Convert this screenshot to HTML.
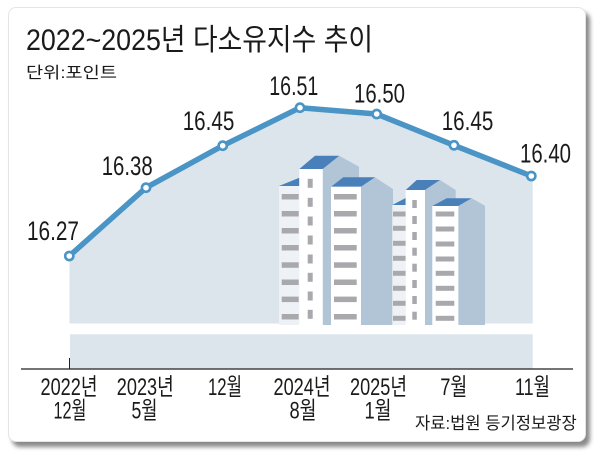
<!DOCTYPE html>
<html><head><meta charset="utf-8">
<style>
html,body{margin:0;padding:0;background:#fff;}
body{width:603px;height:460px;overflow:hidden;position:relative;}
.card{position:absolute;left:8px;top:7px;width:578px;height:435px;background:#fff;border-radius:8px;border:1px solid #e4e4e4;box-sizing:border-box;box-shadow:4px 5px 4px #8a8a8a;}
svg{position:absolute;left:0;top:0;}
text{font-family:"Liberation Sans","Noto Sans CJK KR",sans-serif;fill:#1a1a1a;}
</style></head>
<body>
<div class="card"></div>
<svg width="603" height="460" viewBox="0 0 603 460" xmlns="http://www.w3.org/2000/svg">
  <!-- title -->
  <text x="26" y="50" font-size="30" textLength="347" lengthAdjust="spacingAndGlyphs">2022~2025년 다소유지수 추이</text>
  <text x="26" y="78" font-size="16" fill="#333" textLength="91" lengthAdjust="spacingAndGlyphs">단위:포인트</text>

  <!-- area fill -->
  <polygon points="69.5,256 146,187.7 222.7,145.7 300,107.7 376.7,114 454,145.3 532.7,175.5 532.7,323.5 69.5,323.5" fill="#dce5ec"/>
  <rect x="70" y="334.3" width="462.7" height="34.7" fill="#dce5ec"/>

  <!-- buildings -->
  <!-- B1 -->
  <polygon points="279,186 299.3,177.7 299.3,186" fill="#4a80ba"/>
  <rect x="279" y="186" width="20.3" height="139" fill="#eef2f6"/>
  <g fill="#a9a9ad">
    <rect x="281.7" y="194" width="17" height="5.5"/><rect x="281.7" y="211" width="17" height="5.5"/>
    <rect x="281.7" y="228" width="17" height="5.5"/><rect x="281.7" y="245" width="17" height="5.5"/>
    <rect x="281.7" y="262.3" width="17" height="5.5"/><rect x="281.7" y="279.5" width="17" height="5.5"/>
    <rect x="281.7" y="296.6" width="17" height="5.5"/><rect x="281.7" y="314" width="17" height="5.5"/>
  </g>
  <!-- B2 -->
  <polygon points="322.7,169 339.3,155.7 359,166.7 359,325 322.7,325" fill="#b2c5d7"/>
  <polygon points="299.3,169 315,155.7 339.3,155.7 322.7,169" fill="#4a80ba"/>
  <rect x="299.3" y="169" width="23.4" height="156" fill="#fff"/>
  <g fill="#a9a9ad">
    <rect x="307.7" y="178.8" width="5" height="9"/><rect x="307.7" y="197.8" width="5" height="9"/>
    <rect x="307.7" y="216.5" width="5" height="9"/><rect x="307.7" y="235.5" width="5" height="9"/>
    <rect x="307.7" y="254.5" width="5" height="9"/><rect x="307.7" y="272.8" width="5" height="9"/>
    <rect x="307.7" y="291.5" width="5" height="9"/><rect x="307.7" y="309.8" width="5" height="9"/>
  </g>
  <!-- B3 -->
  <polygon points="361,186.7 375,177.3 393,189 393,325 361,325" fill="#b2c5d7"/>
  <polygon points="331,186.7 343.3,177.3 375,177.3 361,186.7" fill="#4a80ba"/>
  <rect x="331" y="186.7" width="30" height="138.3" fill="#fff"/>
  <g fill="#a9a9ad">
    <rect x="334" y="194" width="22.7" height="5.5"/><rect x="334" y="211" width="22.7" height="5.5"/>
    <rect x="334" y="228" width="22.7" height="5.5"/><rect x="334" y="245" width="22.7" height="5.5"/>
    <rect x="334" y="262.3" width="22.7" height="5.5"/><rect x="334" y="279.5" width="22.7" height="5.5"/>
    <rect x="334" y="296.6" width="22.7" height="5.5"/><rect x="334" y="314" width="22.7" height="5.5"/>
  </g>
  <!-- B4 -->
  <polygon points="392.3,205 405.7,198 405.7,205" fill="#4a80ba"/>
  <rect x="392.3" y="205" width="13.4" height="120" fill="#eef2f6"/>
  <g fill="#a9a9ad">
    <rect x="393" y="211.5" width="12.7" height="5"/><rect x="393" y="225.8" width="12.7" height="5"/>
    <rect x="393" y="240.8" width="12.7" height="5"/><rect x="393" y="255.8" width="12.7" height="5"/>
    <rect x="393" y="270.8" width="12.7" height="5"/><rect x="393" y="285.8" width="12.7" height="5"/>
    <rect x="393" y="300.8" width="12.7" height="5"/><rect x="393" y="315.8" width="12.7" height="5"/>
  </g>
  <!-- B5 -->
  <polygon points="425,190 440,180 455.7,190 455.7,325 425,325" fill="#b2c5d7"/>
  <polygon points="405.7,190 416.7,180 440,180 425,190" fill="#4a80ba"/>
  <rect x="405.7" y="190" width="19.3" height="135" fill="#fff"/>
  <g fill="#a9a9ad">
    <rect x="412.3" y="200" width="4.5" height="8"/><rect x="412.3" y="216" width="4.5" height="8"/>
    <rect x="412.3" y="232" width="4.5" height="8"/><rect x="412.3" y="247.7" width="4.5" height="8"/>
    <rect x="412.3" y="263.7" width="4.5" height="8"/><rect x="412.3" y="280" width="4.5" height="8"/>
    <rect x="412.3" y="296" width="4.5" height="8"/><rect x="412.3" y="311.7" width="4.5" height="8"/>
  </g>
  <!-- B6 -->
  <polygon points="458.3,206 471.7,198.3 485,205.7 485,325 458.3,325" fill="#b2c5d7"/>
  <polygon points="432.3,206 446.7,198.3 471.7,198.3 458.3,206" fill="#4a80ba"/>
  <rect x="432.3" y="206" width="26" height="119" fill="#fff"/>
  <g fill="#a9a9ad">
    <rect x="435.7" y="211.5" width="18.6" height="5"/><rect x="435.7" y="226.5" width="18.6" height="5"/>
    <rect x="435.7" y="241.5" width="18.6" height="5"/><rect x="435.7" y="256.5" width="18.6" height="5"/>
    <rect x="435.7" y="270.8" width="18.6" height="5"/><rect x="435.7" y="285.8" width="18.6" height="5"/>
    <rect x="435.7" y="300.8" width="18.6" height="5"/><rect x="435.7" y="315.8" width="18.6" height="5"/>
  </g>

  <!-- axis -->
  <line x1="21" y1="369" x2="573" y2="369" stroke="#222" stroke-width="1.3"/>
  <line x1="69.5" y1="358" x2="69.5" y2="369" stroke="#222" stroke-width="1"/>

  <!-- line -->
  <polyline points="69.3,256 146,187.7 222.7,145.7 300,107.7 376.7,114 454,145.3 531.3,176" fill="none" stroke="#4a94c6" stroke-width="5.5" stroke-linejoin="round"/>
  <g fill="#fff" stroke="#4a94c6" stroke-width="2.6">
    <circle cx="69.3" cy="256" r="4.1"/><circle cx="146" cy="187.7" r="4.1"/>
    <circle cx="222.7" cy="145.7" r="4.1"/><circle cx="300" cy="107.7" r="4.1"/>
    <circle cx="376.7" cy="114" r="4.1"/><circle cx="454" cy="145.3" r="4.1"/>
    <circle cx="531.3" cy="176" r="4.1"/>
  </g>

  <!-- data labels -->
  <g font-size="27">
    <text x="27" y="240" textLength="52" lengthAdjust="spacingAndGlyphs">16.27</text>
    <text x="101.7" y="175" textLength="51" lengthAdjust="spacingAndGlyphs">16.38</text>
    <text x="182.7" y="130" textLength="51.6" lengthAdjust="spacingAndGlyphs">16.45</text>
    <text x="269.3" y="95" textLength="49" lengthAdjust="spacingAndGlyphs">16.51</text>
    <text x="354" y="102.5" textLength="51" lengthAdjust="spacingAndGlyphs">16.50</text>
    <text x="441.7" y="130" textLength="51.6" lengthAdjust="spacingAndGlyphs">16.45</text>
    <text x="520" y="162.5" textLength="51" lengthAdjust="spacingAndGlyphs">16.40</text>
  </g>

  <!-- x labels -->
  <g font-size="24" text-anchor="middle" fill="#222">
    <text x="69" y="395" textLength="57" lengthAdjust="spacingAndGlyphs">2022년</text>
    <text x="70" y="418.5" textLength="33" lengthAdjust="spacingAndGlyphs">12월</text>
    <text x="145.3" y="395" textLength="57" lengthAdjust="spacingAndGlyphs">2023년</text>
    <text x="144.5" y="418.5" textLength="26" lengthAdjust="spacingAndGlyphs">5월</text>
    <text x="225" y="395" textLength="34" lengthAdjust="spacingAndGlyphs">12월</text>
    <text x="302" y="395" textLength="57" lengthAdjust="spacingAndGlyphs">2024년</text>
    <text x="303" y="418.5" textLength="27" lengthAdjust="spacingAndGlyphs">8월</text>
    <text x="378.5" y="395" textLength="57" lengthAdjust="spacingAndGlyphs">2025년</text>
    <text x="378" y="418.5" textLength="27" lengthAdjust="spacingAndGlyphs">1월</text>
    <text x="453.7" y="395" textLength="27" lengthAdjust="spacingAndGlyphs">7월</text>
    <text x="532.5" y="395" textLength="35" lengthAdjust="spacingAndGlyphs">11월</text>
  </g>

  <text x="415" y="429" font-size="17" fill="#222" textLength="161.7" lengthAdjust="spacingAndGlyphs">자료:법원 등기정보광장</text>
</svg>
</body></html>
